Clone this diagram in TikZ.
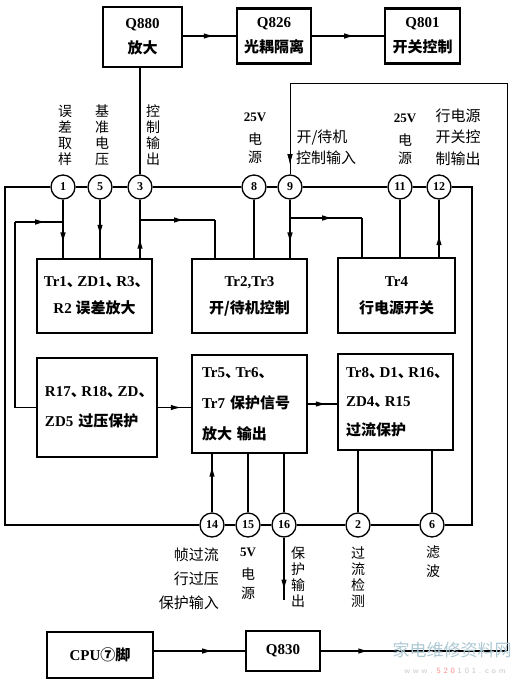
\documentclass[tikz,border=0pt]{standalone}
\usepackage{fontspec}
\setmainfont{Liberation Serif}
\newfontfamily\cjk{Noto Sans CJK SC}
\usetikzlibrary{arrows.meta,decorations.markings}
\newcommand\zh[1]{{\cjk #1}}
\newcommand\dun{{\cjk 、}\kern-0.3em}
\begin{document}
\begin{tikzpicture}[x=1pt,y=-1pt,
  box/.style={draw,line width=1.8pt,rectangle,inner sep=0pt,align=center,font=\bfseries\fontsize{15}{27}\selectfont},
  topbox/.style={box,line width=2.2pt,font=\bfseries\fontsize{15}{25}\selectfont},
  pin/.style={draw,circle,line width=1.3pt,minimum size=24pt,inner sep=0pt,font=\bfseries\fontsize{12}{12}\selectfont},
  wire/.style={line width=1.5pt},
  thinwire/.style={line width=1pt},
  lab/.style={font=\fontsize{14}{16}\selectfont\cjk,align=center,inner sep=0pt},
  hlab/.style={font=\fontsize{15}{16}\selectfont\cjk,align=center,inner sep=0pt},
  latin/.style={font=\bfseries\fontsize{13}{13}\selectfont,inner sep=0pt},
  arr/.style={postaction={decorate},decoration={markings,mark=at position #1 with {\arrow{Latex[length=11pt,width=5.5pt]}}}},
  rarr/.style={postaction={decorate},decoration={markings,mark=at position #1 with {\arrowreversed{Latex[length=11pt,width=5.5pt]}}}}
]
\useasboundingbox (0,0) rectangle (530,681);
\fill[white] (0,0) rectangle (530,681);

% top boxes
\node[topbox,minimum width=79pt,minimum height=60pt] (q880) at (142.5,37) {Q880\\\zh{放大}};
\node[topbox,minimum width=74pt,minimum height=55pt] (q826) at (274,36) {Q826\\\zh{光耦隔离}};
\node[topbox,minimum width=75pt,minimum height=55pt] (q801) at (422.5,36) {Q801\\\zh{开关控制}};
\draw[wire,arr=0.6] (q880.east |- q826.west) -- (q826.west);
\draw[wire,arr=0.6] (q826.east) -- (q801.west);

% pins top row
\node[pin] (p1) at (63,187) {1};
\node[pin] (p5) at (100,187) {5};
\node[pin] (p3) at (140,187) {3};
\node[pin] (p8) at (254,187) {8};
\node[pin] (p9) at (290,187) {9};
\node[pin] (p11) at (400,187) {11};
\node[pin] (p12) at (439,187) {12};

% pins bottom row
\node[pin] (p14) at (212,525) {14};
\node[pin] (p15) at (248,525) {15};
\node[pin] (p16) at (284,525) {16};
\node[pin] (p2) at (358,525) {2};
\node[pin] (p6) at (432,525) {6};

% function boxes
\node[box,minimum width=115pt,minimum height=74pt] (A) at (94.5,296) {Tr1\dun ZD1\dun R3\dun\\R2 \zh{误差放大}};
\node[box,minimum width=115pt,minimum height=74pt] (B) at (249.5,296) {Tr2,Tr3\\\zh{开/待机控制}};
\node[box,minimum width=117pt,minimum height=75pt] (C) at (396.5,295.5) {Tr4\\\zh{行电源开关}};
\node[box,minimum width=120pt,minimum height=99pt,text width=104pt,align=left,font=\bfseries\fontsize{15}{30}\selectfont] (D) at (97,407.5) {R17\dun R18\dun ZD\dun\\ZD5 \zh{过压保护}};
\node[box,minimum width=115pt,minimum height=98pt,text width=95pt,align=left,font=\bfseries\fontsize{15}{31}\selectfont] (E) at (249.5,404) {Tr5\dun Tr6\dun\\Tr7 \zh{保护信号}\\\zh{放大 输出}};
\node[box,minimum width=115pt,minimum height=96pt,text width=99pt,align=left,font=\bfseries\fontsize{15}{29}\selectfont] (F) at (395.5,402) {Tr8\dun D1\dun R16\dun\\ZD4\dun R15\\\zh{过流保护}};

% bottom boxes
\node[box,minimum width=106pt,minimum height=46pt] (cpu) at (100,655) {CPU\zh{⑦脚}};
\node[box,minimum width=74pt,minimum height=40pt] (q830) at (283,651) {Q830};

% coordinates
\coordinate (lx) at (5,0);
\coordinate (rx) at (472,0);
\coordinate (fb1) at (15,222);
\coordinate (j3) at (140,220);
\coordinate (b3) at (215,220);
\coordinate (j9) at (290,218);
\coordinate (b9) at (362,218);
\coordinate (o16) at (284,600);
\coordinate (oBR) at (507,651);
\coordinate (oTR) at (507,83);
\coordinate (oTL) at (290,83);

% top row bus
\draw[wire] (p1) -- (p5);
\draw[wire] (p5) -- (p3);
\draw[wire] (p3) -- (p8);
\draw[wire] (p8) -- (p9);
\draw[wire] (p9) -- (p11);
\draw[wire] (p11) -- (p12);
% bottom row bus
\draw[wire] (p14) -- (p15);
\draw[wire] (p15) -- (p16);
\draw[wire] (p16) -- (p2);
\draw[wire] (p2) -- (p6);
% outer left and right
\draw[wire] (p1.west) -| (lx |- p14.west) -- (p14.west);
\draw[wire] (p12.east) -| (rx |- p6.east) -- (p6.east);

% Q880 to pin 3
\draw[wire] (q880.south -| p3) -- (p3.north);

% verticals to first row boxes
\draw[wire,arr=0.75] (p1.south) -- (p1 |- A.north);
\draw[wire,arr=0.62] (p5.south) -- (p5 |- A.north);
\draw[wire,rarr=0.65] (p3.south) -- (p3 |- A.north);
\draw[wire,arr=0.6] (j3) -- (b3);
\draw[wire] (b3) -- (b3 |- B.north);
\draw[wire] (p8.south) -- (p8 |- B.north);
\draw[wire,arr=0.75] (p9.south) -- (p9 |- B.north);
\draw[wire,arr=0.6] (j9) -- (b9);
\draw[wire] (b9) -- (b9 |- C.north);
\draw[wire] (p11.south) -- (p11 |- C.north);
\draw[wire,rarr=0.6] (p12.south) -- (p12 |- C.north);

% feedback from D
\draw[wire] (D.west) -| (fb1);
\draw[wire,arr=0.65] (fb1) -- (p1 |- fb1);

% second row
\draw[wire,arr=0.72] (D.east) -- (D.east -| E.west);
\draw[wire,arr=0.65] (E.east) -- (E.east -| F.west);
\draw[wire,rarr=0.2] (E.south -| p14) -- (p14.north);
\draw[wire] (E.south -| p15) -- (p15.north);
\draw[wire] (E.south -| p16) -- (p16.north);
\draw[wire] (F.south -| p2) -- (p2.north);
\draw[wire] (F.south -| p6) -- (p6.north);
\draw[wire,arr=0.85] (p16.south) -- (o16);

% bottom
\draw[wire,arr=0.65] (cpu.east |- q830.west) -- (q830.west);
\draw[wire,arr=0.26] (q830.east) -- (oBR);
\draw[thinwire] (oBR) -- (oTR) -- (oTL);
\draw[thinwire,arr=0.9] (oTL) -- (p9.north);

% top labels
\node[lab] (l1) at (65,135) {误\\差\\取\\样};
\node[lab] (l5) at (102,135) {基\\准\\电\\压};
\node[lab] (l3) at (153,135) {控\\制\\输\\出};
\node[latin] (l8a) at (255,117) {25V};
\node[lab,font=\fontsize{14}{18}\selectfont\cjk] (l8b) at (255,148) {电\\源};
\node[hlab] (l9a) at (322,138) {开/待机};
\node[hlab] (l9b) at (326,158) {控制输入};
\node[latin] (l11a) at (405,118) {25V};
\node[lab,font=\fontsize{14}{18}\selectfont\cjk] (l11b) at (405,149) {电\\源};
\node[hlab,font=\fontsize{15}{21.5}\selectfont\cjk] (l12) at (458,137) {行电源\\开关控\\制输出};

% bottom labels
\node[hlab,align=right,anchor=east,font=\fontsize{15}{24}\selectfont\cjk] (l14) at (219,579) {帧过流\\行过压\\保护输入};
\node[latin] (l15a) at (248,552) {5V};
\node[lab,font=\fontsize{14}{19}\selectfont\cjk] (l15b) at (248,584) {电\\源};
\node[lab] (l16) at (298,577) {保\\护\\输\\出};
\node[lab] (l2) at (358,577) {过\\流\\检\\测};
\node[lab,font=\fontsize{14}{19}\selectfont\cjk] (l6) at (433,562) {滤\\波};

% watermark
\node[font=\fontsize{17}{17}\selectfont\cjk,text=cyan!35!gray!55,inner sep=0pt] (wm) at (452,650) {家电维修资料网};
\node[font=\fontsize{8}{8}\selectfont\sffamily,text=gray!45,inner sep=0pt] (wm2) at (455,671) {w w w . \textcolor{red!45}{5 2 0} 1 0 1 . c o m};
\end{tikzpicture}
\end{document}
